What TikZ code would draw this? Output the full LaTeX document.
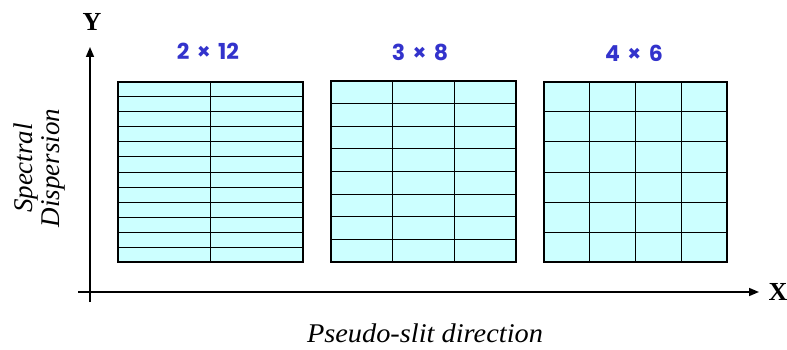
\documentclass[tikz,border=0pt]{standalone}
\usepackage{fontspec}
\setmainfont{Liberation Serif}
\newfontfamily\lblfont{Poppins}
\usetikzlibrary{arrows.meta}
\definecolor{cellfill}{HTML}{CCFFFF}
\definecolor{lblblue}{HTML}{3333CC}
\tikzset{
  gridbox/.style={draw=black,line width=1.1pt},
  gridline/.style={draw=black,line width=1pt},
  axis/.style={line width=1.6pt,-{Triangle[length=10pt,width=8pt]}},
  sizelbl/.style={text=lblblue,font=\lblfont\bfseries\fontsize{22}{24}\selectfont},
  axlbl/.style={font=\bfseries\fontsize{26}{28}\selectfont},
  itlbl/.style={font=\itshape\fontsize{27}{27}\selectfont,align=center}
}
\newcommand{\mygrid}[6]{% x0 y0 x1 y1 cols rows
  \fill[cellfill] (#1,#2) rectangle (#3,#4);
  \pgfmathsetmacro{\dx}{(#3-#1)/#5}
  \pgfmathsetmacro{\dy}{(#4-#2)/#6}
  \foreach \i in {1,...,\numexpr#5-1\relax} {\draw[gridline] ({#1+\i*\dx},#2) -- ({#1+\i*\dx},#4);}
  \foreach \j in {1,...,\numexpr#6-1\relax} {\draw[gridline] (#1,{#2+\j*\dy}) -- (#3,{#2+\j*\dy});}
  \draw[gridbox] (#1,#2) rectangle (#3,#4);
}
\begin{document}
\begin{tikzpicture}[x=1pt,y=-1pt]
\useasboundingbox (0,0) rectangle (787,350);
\mygrid{118}{82}{303}{262}{2}{12}
\mygrid{331}{81}{516}{262}{3}{8}
\mygrid{544}{82}{727}{262}{4}{6}
\node[sizelbl] (l1) at (208,51) {2\,\,×\,\,12};
\node[sizelbl] (l2) at (420,52) {3\,\,×\,\,8};
\node[sizelbl] (l3) at (634,53) {4\,\,×\,\,6};
% axes
\coordinate (ybot) at (90,302);
\coordinate (ytop) at (90,47);
\coordinate (xleft) at (78,292);
\coordinate (xright) at (759,292);
\draw[axis] (ybot) -- (ytop);
\draw[axis] (xleft) -- (xright);
\node[axlbl] (Y) at (92,22) {Y};
\node[axlbl] (X) at (778,292) {X};
\node[itlbl,rotate=90] (sd) at (40,168) {Spectral\\Dispersion};
\node[itlbl,xscale=1.05] (ps) at (425,333) {Pseudo-slit direction};
\end{tikzpicture}
\end{document}
